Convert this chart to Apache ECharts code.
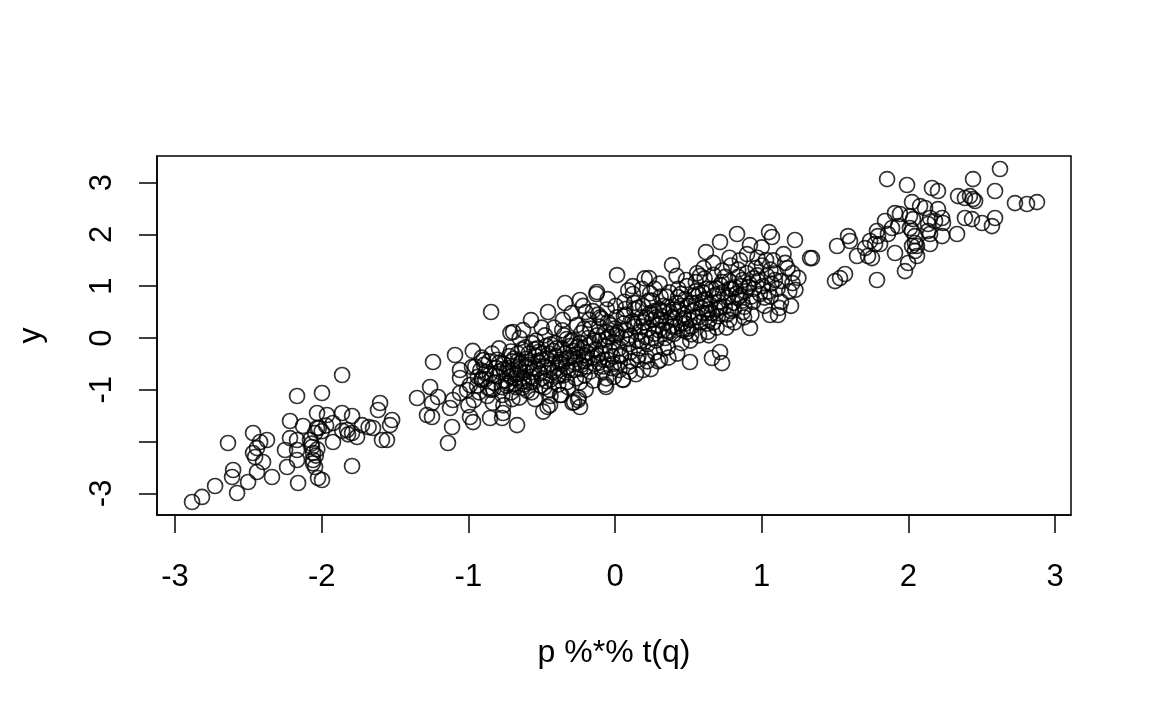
<!DOCTYPE html>
<html>
<head>
<meta charset="utf-8">
<script src="https://cdn.jsdelivr.net/npm/echarts@6/dist/echarts.min.js"></script>
<style>
html, body { margin: 0; padding: 0; background: #fff; }
#chart { width: 1152px; height: 711px; }
</style>
</head>
<body>
<div id="chart"></div>
<script>
// x / y pairs, grouped by cluster
var lowerCluster = [
    [-1.861, -0.714], [-2.168, -1.120], [-1.998, -1.062], [-1.602, -1.255], [-1.616, -1.390],
    [-2.032, -1.448], [-1.964, -1.486], [-1.861, -1.448], [-1.793, -1.506], [-2.216, -1.602],
    [-2.127, -1.699], [-1.923, -1.641], [-2.032, -1.737], [-1.725, -1.680], [-1.650, -1.737],
    [-1.520, -1.583], [-1.534, -1.680], [-1.827, -1.776], [-1.793, -1.834], [-1.759, -1.911],
    [-2.468, -1.834], [-2.373, -1.969], [-2.420, -2.008], [-2.639, -2.027], [-2.045, -1.834],
    [-2.080, -1.969], [-2.168, -1.969], [-2.216, -1.931], [-1.923, -2.008], [-1.589, -1.969],
    [-1.555, -1.969], [-2.250, -2.162], [-2.441, -2.124], [-2.468, -2.220], [-2.454, -2.297],
    [-2.168, -2.162], [-2.066, -2.104], [-2.059, -2.220], [-2.059, -2.355], [-2.045, -2.490],
    [-2.400, -2.394], [-2.168, -2.355], [-2.236, -2.490], [-2.604, -2.548], [-2.611, -2.683],
    [-2.441, -2.587], [-2.339, -2.683], [-1.793, -2.471], [-2.025, -2.703], [-1.998, -2.741],
    [-2.161, -2.799], [-2.502, -2.780], [-2.727, -2.857], [-2.577, -2.992], [-2.816, -3.069],
    [-2.884, -3.166], [-2.07, -2.04], [-2.04, -2.27], [-2.06, -2.42], [-2.03, -2.15],
    [-1.86, -1.79], [-1.82, -1.86], [-1.68, -1.72], [-2.02, -1.74], [-2.00, -1.80],
    [-1.97, -1.69]
];

// sparse edge of the central band
var middleEdge = [
    [-0.845, 0.502], [-1.241, -0.463], [-1.091, -0.328], [-1.057, -0.618], [-0.975, -0.560],
    [-0.900, -0.425], [-1.261, -0.946], [-1.350, -1.158], [-1.207, -1.139], [-1.248, -1.255],
    [-1.248, -1.525], [-1.282, -1.486], [-1.125, -1.351], [-1.105, -1.197], [-1.057, -1.062],
    [-0.989, -0.907], [-0.907, -0.811], [-0.989, -1.525], [-0.968, -1.622], [-0.852, -1.544],
    [-0.770, -1.544], [-0.764, -1.448], [-0.668, -1.680], [-1.111, -1.718], [-1.139, -2.027],
    [-1.057, -0.772], [-1.009, -1.004], [-0.695, 0.116], [-0.627, 0.154],
    [-0.573, 0.347], [-0.457, 0.502], [-0.341, 0.676], [-0.239, 0.734], [-0.123, 0.888],
    [0.014, 1.216], [0.232, 1.158], [0.389, 1.409], [0.620, 1.660], [0.716, 1.853],
    [0.832, 2.008], [0.920, 1.795], [1.050, 2.046], [1.070, 1.950], [1.227, 1.892],
    [1.330, 1.544], [1.03, 1.506], [-0.443, -1.293], [-0.252, -1.197], [-0.239, -1.332],
    [-0.061, -0.946], [0.055, -0.811], [0.191, -0.618], [0.307, -0.425], [0.511, -0.463],
    [0.661, -0.386], [0.730, -0.483], [0.716, -0.270], [0.920, 0.193], [1.057, 0.444],
    [1.111, 0.444], [1.21, 1.25], [1.21, 1.06], [1.23, 0.93], [1.25, 1.16],
    [-0.29, -1.25], [-0.375, -1.10], [-0.46, -1.33], [-0.49, -1.42]
];

// dense core of the central band
var middleCore = [
    [-0.953, -0.55], [-0.941, -0.92], [-0.962, -1.20], [-0.936, -0.75],
    [-0.918, -0.62], [-0.927, -1.05], [-0.909, -0.38],
    [-0.884, -0.80], [-0.871, -1.12], [-0.893, -0.52], [-0.866, -0.96],
    [-0.853, -0.70], [-0.838, -0.30], [-0.847, -1.00],
    [-0.826, -0.86], [-0.811, -0.58], [-0.834, -1.25], [-0.803, -0.42],
    [-0.787, -0.65], [-0.772, -0.95], [-0.791, -0.20], [-0.768, -1.10],
    [-0.757, -0.50], [-0.744, -0.82], [-0.739, -0.68], [-0.761, -1.30],
    [-0.722, -0.35], [-0.716, -0.74], [-0.729, -0.58], [-0.708, -1.05], [-0.713, 0.10],
    [-0.696, -0.62], [-0.684, -0.88], [-0.701, -0.45],
    [-0.672, -0.70], [-0.659, -0.55], [-0.677, -0.95], [-0.663, -0.30], [-0.652, -1.15],
    [-0.641, -0.48], [-0.629, -0.78], [-0.648, -0.60], [-0.633, -0.22],
    [-0.612, -0.66], [-0.604, -0.40], [-0.618, -0.90], [-0.597, -1.02],
    [-0.583, -0.52], [-0.571, -0.75], [-0.589, -0.30], [-0.566, -0.10],
    [-0.553, -0.58], [-0.541, -0.35], [-0.557, -0.85], [-0.546, -1.18], [-0.538, -0.05],
    [-0.524, -0.45], [-0.512, -0.68], [-0.529, -0.20], [-0.507, -0.92],
    [-0.494, -0.30], [-0.483, -0.55], [-0.497, -0.78], [-0.478, 0.05],
    [-0.462, -0.40], [-0.451, -0.62], [-0.468, -0.15], [-0.446, -1.00],
    [-0.433, -0.50], [-0.421, -0.25], [-0.437, -0.80], [-0.416, 0.20],
    [-0.404, -0.35], [-0.392, -0.58], [-0.409, -0.10], [-0.387, -0.90],
    [-0.373, -0.42], [-0.361, -0.20], [-0.378, -0.70], [-0.356, 0.35], [-0.366, -1.10],
    [-0.344, -0.30], [-0.331, -0.55], [-0.348, 0.05], [-0.327, -0.85],
    [-0.313, -0.38], [-0.302, -0.15], [-0.318, -0.62], [-0.296, 0.48],
    [-0.284, -0.25], [-0.272, -0.48], [-0.288, -0.05], [-0.267, -0.78], [-0.279, -1.24],
    [-0.253, -0.32], [-0.241, -0.10], [-0.258, 0.25], [-0.236, -0.60], [-0.247, -1.15],
    [-0.224, -0.20], [-0.212, -0.45], [-0.229, 0.10], [-0.207, -0.72], [-0.218, 0.62],
    [-0.193, -0.28], [-0.181, 0.00], [-0.198, -0.55], [-0.176, 0.35],
    [-0.164, -0.12], [-0.152, -0.38], [-0.169, 0.18], [-0.147, -0.82],
    [-0.133, -0.22], [-0.121, 0.05], [-0.138, -0.50], [-0.116, 0.45], [-0.127, 0.85],
    [-0.104, -0.05], [-0.092, -0.30], [-0.109, 0.22], [-0.087, -0.65],
    [-0.073, -0.15], [-0.061, 0.12], [-0.078, -0.42], [-0.056, 0.55], [-0.067, -0.90],
    [-0.044, 0.02], [-0.032, -0.25], [-0.049, 0.30], [-0.027, -0.58],
    [-0.013, -0.08], [-0.001, 0.18], [-0.018, -0.35], [0.004, 0.62], [-0.007, -0.75],
    [0.016, 0.10], [0.028, -0.20], [0.011, 0.40], [0.033, -0.48],
    [0.047, 0.00], [0.059, 0.28], [0.042, -0.32], [0.064, 0.70], [0.053, -0.80],
    [0.076, 0.15], [0.088, -0.12], [0.071, 0.45], [0.093, -0.55],
    [0.106, 0.05], [0.118, 0.32], [0.101, -0.28], [0.123, 0.85],
    [0.136, 0.22], [0.148, -0.05], [0.131, 0.55], [0.153, -0.42], [0.142, -0.70],
    [0.167, 0.12], [0.179, 0.40], [0.162, -0.20], [0.184, 0.95],
    [0.196, 0.30], [0.208, 0.02], [0.191, 0.62], [0.213, -0.35], [0.202, 1.15],
    [0.227, 0.18], [0.239, 0.48], [0.222, -0.12], [0.244, -0.60],
    [0.256, 0.35], [0.268, 0.08], [0.251, 0.72], [0.273, -0.28],
    [0.287, 0.25], [0.299, 0.55], [0.282, -0.05], [0.304, 1.05], [0.293, -0.45],
    [0.316, 0.42], [0.328, 0.15], [0.311, 0.80], [0.333, -0.20],
    [0.347, 0.30], [0.359, 0.60], [0.342, 0.00], [0.364, -0.38],
    [0.376, 0.50], [0.388, 0.22], [0.371, 0.88],
    [0.407, 0.38], [0.419, 0.68], [0.402, 0.08], [0.424, -0.30],
    [0.436, 0.55], [0.448, 0.28], [0.431, 0.95], [0.453, -0.10],
    [0.467, 0.45], [0.479, 0.75], [0.462, 0.15], [0.484, 1.12],
    [0.496, 0.62], [0.508, 0.35], [0.491, 1.00], [0.513, -0.05],
    [0.527, 0.52], [0.539, 0.82], [0.522, 0.22],
    [0.556, 0.68], [0.568, 0.40], [0.551, 1.08], [0.573, 0.05],
    [0.587, 0.58], [0.599, 0.88], [0.582, 0.30], [0.604, 1.35],
    [0.616, 0.75], [0.628, 0.48], [0.611, 1.15], [0.633, 0.12],
    [0.647, 0.65], [0.659, 0.95], [0.642, 0.35],
    [0.676, 0.82], [0.688, 0.55], [0.671, 1.22], [0.693, 0.20],
    [0.707, 0.70], [0.719, 1.02], [0.702, 0.42],
    [0.736, 0.88], [0.748, 0.60], [0.731, 1.30],
    [0.767, 0.78], [0.779, 1.10], [0.762, 0.45],
    [0.796, 0.95], [0.808, 0.68], [0.791, 1.40], [0.813, 0.30],
    [0.827, 0.85], [0.839, 1.18],
    [0.856, 1.00], [0.868, 0.72], [0.851, 1.50], [0.873, 0.50],
    [0.887, 0.90], [0.899, 1.25], [0.882, 0.60],
    [0.916, 1.05], [0.928, 0.80],
    [0.947, 0.95], [0.959, 1.35], [0.942, 0.70],
    [0.976, 1.10], [0.988, 0.85], [0.971, 1.55],
    [1.007, 1.00], [1.019, 0.62], [1.002, 1.40],
    [1.036, 1.20], [1.048, 0.90],
    [1.067, 1.05], [1.079, 1.50], [1.062, 0.80],
    [1.096, 1.25], [1.108, 0.95],
    [1.137, 1.10], [1.149, 1.62], [1.132, 0.70],
    [1.176, 1.35], [1.188, 0.90],
    [-0.61, -0.18], [-0.47, -0.83], [-0.33, -0.02], [-0.21, -0.33], [-0.09, 0.37],
    [0.03, -0.62], [0.13, 0.68], [0.27, 0.52], [0.36, 0.14], [0.43, 0.79],
    [0.52, 0.07], [0.58, 1.20], [0.66, 0.48], [0.73, 1.08], [0.79, 0.52],
    [0.84, 1.32], [0.91, 0.99], [0.97, 1.21], [1.06, 1.32], [1.12, 0.58],
    [-0.80, -0.74], [-0.69, -0.40], [-0.56, -0.66], [-0.44, -0.12], [-0.36, -0.51],
    [-0.27, -0.40], [-0.18, -0.14], [-0.11, -0.48], [-0.02, 0.08], [0.07, 0.56],
    [0.16, -0.34], [0.24, 0.86], [0.33, 0.62], [0.39, 0.40], [0.48, 0.28],
    [0.55, 0.90], [0.63, 0.28], [0.69, 0.96], [0.76, 0.20], [0.82, 0.98],
    [0.88, 0.40], [0.94, 1.15], [1.02, 0.78], [1.09, 1.12], [1.16, 1.45],
    [1.20, 0.62], [-0.74, -0.92], [-0.62, -0.84], [-0.52, -0.27], [-0.39, -0.73],
    [-0.24, -0.86], [-0.15, 0.52], [-0.05, -0.42], [0.09, 0.92], [0.18, 0.22],
    [0.31, 0.35], [0.45, 0.62], [0.60, 0.72], [0.71, 0.58], [0.85, 0.82],
    [-0.88, -0.66], [-0.83, -0.99], [-0.79, -0.48], [-0.76, -0.60], [-0.73, -0.88],
    [-0.71, -0.26], [-0.68, -0.78], [-0.66, -0.44], [-0.63, -0.96], [-0.60, -0.55],
    [-0.58, -0.86], [-0.55, -0.22], [-0.53, -0.60], [-0.50, -0.42], [-0.48, -0.95],
    [-0.45, -0.30], [-0.42, -0.66], [-0.40, -0.20], [-0.38, -0.48], [-0.35, -0.72],
    [-0.33, -0.40], [-0.30, -0.05], [-0.28, -0.62], [-0.26, -0.18], [-0.23, -0.52],
    [-0.21, 0.18], [-0.19, -0.40], [-0.17, -0.65], [-0.14, -0.05], [-0.12, -0.34],
    [-0.10, 0.40], [-0.08, -0.55], [-0.06, -0.02], [-0.03, 0.25], [-0.01, -0.50],
    [0.01, 0.05], [0.04, -0.35], [0.06, 0.42], [0.09, -0.02], [0.11, -0.45],
    [0.13, 0.28], [0.16, 0.58], [0.18, -0.05], [0.21, 0.40], [0.23, 0.72],
    [0.25, 0.00], [0.28, 0.40], [0.30, 0.15], [0.33, 0.50], [0.35, 0.80],
    [0.37, 0.12], [0.40, 0.55], [0.42, 0.22], [0.45, 0.85], [0.47, 0.38],
    [0.50, 0.18], [0.52, 0.68], [0.54, 0.40], [0.57, 0.85], [0.60, 0.48],
    [0.62, 0.95], [0.64, 0.55], [0.67, 0.30], [0.70, 0.85], [0.72, 0.60],
    [0.75, 1.18], [0.78, 0.95], [0.81, 0.55], [0.84, 0.78], [0.87, 1.12],
    [-0.91, -0.80], [-0.86, -0.45], [-0.70, -1.18], [-0.57, -1.05], [-0.44, -1.12],
    [-0.32, -0.95], [-0.20, -1.00], [-0.06, -0.78], [0.10, -0.65], [0.22, -0.45],
    [0.36, -0.18], [0.49, 0.12], [0.64, 0.05], [0.78, 0.35], [0.93, 0.45],
    [-0.65, 0.00], [-0.50, 0.20], [-0.36, 0.15], [-0.20, 0.50], [-0.05, 0.75],
    [0.12, 1.00], [0.27, 0.95], [0.42, 1.20], [0.56, 1.25], [0.67, 1.45],
    [0.78, 1.55], [0.90, 1.62], [1.00, 1.75], [-0.97, -0.25], [-1.00, -1.30]
];

var upperCluster = [
    [1.855, 3.069], [1.991, 2.954], [2.161, 2.896], [2.202, 2.838], [2.625, 3.263],
    [2.441, 3.069], [2.591, 2.838], [2.339, 2.741], [2.386, 2.703], [2.420, 2.741],
    [2.441, 2.683], [2.455, 2.645], [2.727, 2.606], [2.809, 2.587], [2.877, 2.625],
    [2.025, 2.625], [2.080, 2.548], [2.114, 2.510], [2.202, 2.490], [2.386, 2.317],
    [2.434, 2.297], [2.502, 2.220], [2.570, 2.162], [2.591, 2.317], [1.909, 2.413],
    [1.943, 2.394], [2.011, 2.355], [2.032, 2.297], [2.148, 2.317], [2.182, 2.259],
    [2.230, 2.317], [2.236, 2.220], [1.841, 2.259], [1.889, 2.124], [2.011, 2.124],
    [2.025, 2.066], [2.134, 2.201], [1.786, 2.066], [1.793, 1.969], [1.861, 2.008],
    [1.930, 2.162], [2.134, 2.066], [2.148, 2.008], [2.230, 1.969], [2.332, 2.008],
    [2.045, 1.969], [1.589, 1.969], [1.602, 1.873], [1.514, 1.776], [1.739, 1.873],
    [1.773, 1.815], [1.807, 1.815], [1.705, 1.737], [1.725, 1.583], [1.752, 1.544],
    [1.650, 1.583], [1.909, 1.641], [2.045, 1.834], [2.059, 1.776], [2.045, 1.680],
    [2.059, 1.583], [2.025, 1.776], [2.148, 1.815], [1.998, 1.448], [1.977, 1.293],
    [1.343, 1.544], [1.500, 1.100], [1.534, 1.158], [1.568, 1.236], [1.786, 1.120]
];

var xTicks = [-3, -2, -1, 0, 1, 2, 3];
var yTicks = [-3, -2, -1, 0, 1, 2, 3];
var yLabels = [-3, -1, 0, 1, 2, 3];

var points = lowerCluster.concat(middleEdge, middleCore, upperCluster);

var chart = echarts.init(document.getElementById('chart'));

var labelFont = { fontFamily: 'Liberation Sans', fontSize: 31, color: '#000' };
var titleFont = { fontFamily: 'Liberation Sans', fontSize: 32, color: '#000' };
var blackLine = { color: '#000', width: 1.5 };

chart.setOption({
    animation: false,
    backgroundColor: '#fff',
    grid: {
        left: 157, right: 81, top: 156, bottom: 196,
        show: true,
        borderColor: '#000',
        borderWidth: 1.5,
        backgroundColor: 'transparent'
    },
    xAxis: {
        type: 'value',
        min: -3.123,
        max: 3.109,
        name: 'p %*% t(q)',
        nameLocation: 'middle',
        nameGap: 122,
        nameTextStyle: titleFont,
        splitLine: { show: false },
        axisLine: { show: true, onZero: false, lineStyle: blackLine },
        axisTick: { show: true, length: 18, customValues: xTicks, lineStyle: blackLine },
        axisLabel: Object.assign({ customValues: xTicks, margin: 47 }, labelFont)
    },
    yAxis: {
        type: 'value',
        min: -3.417,
        max: 3.514,
        name: 'y',
        nameLocation: 'middle',
        nameGap: 110,
        nameRotate: 90,
        nameTextStyle: titleFont,
        splitLine: { show: false },
        axisLine: { show: true, onZero: false, lineStyle: blackLine },
        axisTick: { show: true, length: 18, customValues: yTicks, lineStyle: blackLine },
        axisLabel: Object.assign({ customValues: yLabels, margin: 39, rotate: 90 }, labelFont)
    },
    series: [{
        type: 'scatter',
        data: points,
        symbol: 'circle',
        symbolSize: 15,
        itemStyle: { color: 'none', borderColor: '#000', borderWidth: 1.7 },
        emphasis: { disabled: true }
    }]
});
</script>
</body>
</html>
